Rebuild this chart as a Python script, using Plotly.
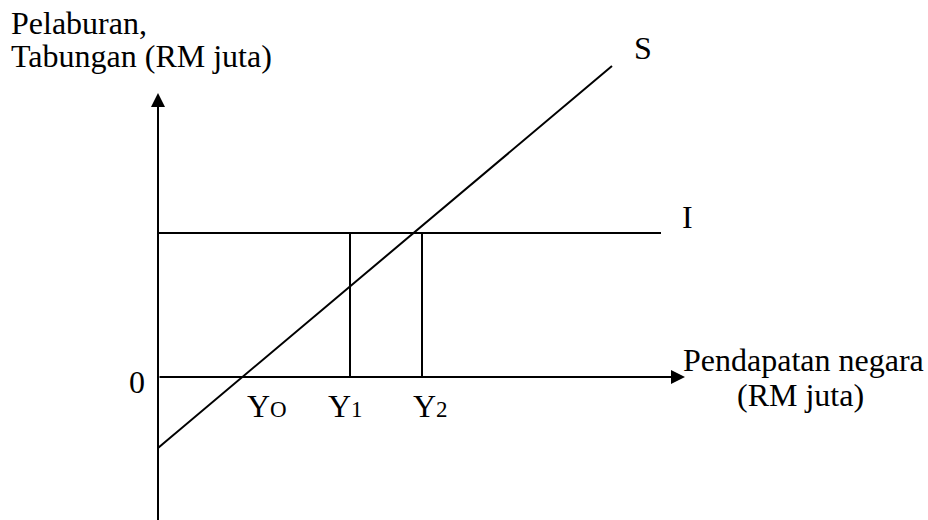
import plotly.graph_objects as go

# Keynesian saving / investment diagram (values in arbitrary units)
income_y0 = 8.44          # where S crosses zero
income_y1 = 19.2
income_y2 = 26.4
investment = 14.4         # autonomous investment level I
saving_x = [0.0, 45.4]    # saving line S
saving_y = [-7.1, 31.1]
i_line_x = [0.0, 50.3]
x_axis_end = 52.7
y_axis_top = 28.4
y_axis_bottom = -15.0

income_labels = ["Y<span style='font-size:23px'>O</span>",
                 "Y<span style='font-size:23px'>1</span>",
                 "Y<span style='font-size:23px'>2</span>"]
income_label_shift = [25, -5, 8]

W, H = 928, 520
FONT = dict(family="Liberation Serif, Times New Roman, serif", size=32, color="black")
line_style = dict(color="black", width=2)

fig = go.Figure()

# S line
fig.add_trace(go.Scatter(x=saving_x, y=saving_y, mode="lines", line=line_style, hoverinfo="skip"))
# I line
fig.add_trace(go.Scatter(x=i_line_x, y=[investment, investment], mode="lines", line=line_style, hoverinfo="skip"))
# verticals at Y1 and Y2
for yv in [income_y1, income_y2]:
    fig.add_trace(go.Scatter(x=[yv, yv], y=[0, investment], mode="lines", line=line_style, hoverinfo="skip"))

# axes with arrows
fig.add_annotation(x=x_axis_end, y=0, ax=0, ay=0, xref="x", yref="y", axref="x", ayref="y",
                   showarrow=True, arrowhead=2, arrowsize=1.4, arrowwidth=2, arrowcolor="black",
                   standoff=0, text="")
fig.add_annotation(x=0, y=y_axis_top, ax=0, ay=y_axis_bottom, xref="x", yref="y", axref="x", ayref="y",
                   showarrow=True, arrowhead=2, arrowsize=1.4, arrowwidth=2, arrowcolor="black",
                   standoff=0, text="")


def px(x):
    return x / W


def py(y):
    return 1 - y / H


def label(text, x, y, xanchor="center"):
    fig.add_annotation(text=text, x=px(x), y=py(y), xref="paper", yref="paper",
                       xanchor=xanchor, yanchor="middle", showarrow=False, font=FONT)


label("Pelaburan,", 9, 23.5, "left")
label("Tabungan (RM juta)", 9, 56, "left")
label("S", 643, 47.5)
label("I", 687, 217)
label("0", 137, 382)
label("Pendapatan negara", 803, 360)
label("(RM juta)", 800, 395)

for txt, xv, sh in zip(income_labels, [income_y0, income_y1, income_y2], income_label_shift):
    fig.add_annotation(text=txt, x=xv, y=0, xref="x", yref="y", xshift=sh, yshift=-29,
                       xanchor="center", yanchor="middle", showarrow=False, font=FONT)

fig.update_xaxes(range=[-15.8, 77.0], visible=False, showgrid=False, zeroline=False)
fig.update_yaxes(range=[-14.3, 37.7], visible=False, showgrid=False, zeroline=False)
fig.update_layout(width=W, height=H, margin=dict(l=0, r=0, t=0, b=0), showlegend=False,
                  plot_bgcolor="white", paper_bgcolor="white")

fig.write_html("out.html", config={"displayModeBar": False},
               post_script="document.body.style.margin='0';document.body.style.overflow='hidden';")
